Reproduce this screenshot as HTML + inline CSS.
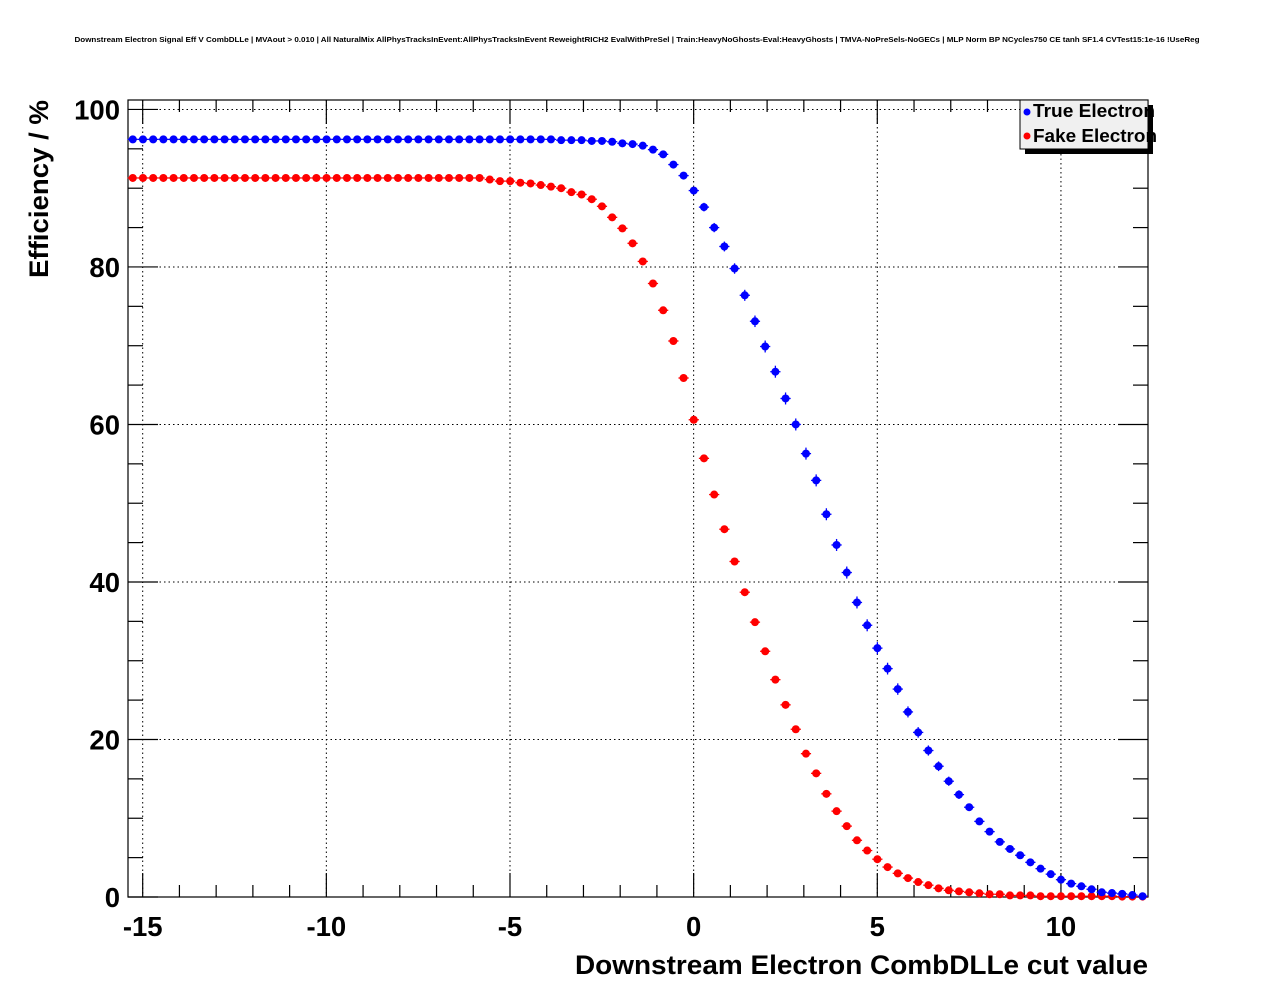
<!DOCTYPE html>
<html><head><meta charset="utf-8"><style>
html,body{margin:0;padding:0;background:#fff;}
svg{display:block;font-family:"Liberation Sans",Arial,sans-serif;}
</style></head><body>
<svg id="chart" width="1276" height="996" viewBox="0 0 1276 996" xmlns="http://www.w3.org/2000/svg">
<rect x="0" y="0" width="1276" height="996" fill="#fff"/>
<text x="637" y="42" font-size="7.2" font-weight="bold" text-anchor="middle" textLength="1125" lengthAdjust="spacingAndGlyphs">Downstream Electron Signal Eff V CombDLLe | MVAout &gt; 0.010 | All NaturalMix AllPhysTracksInEvent:AllPhysTracksInEvent ReweightRICH2 EvalWithPreSel | Train:HeavyNoGhosts-Eval:HeavyGhosts | TMVA-NoPreSels-NoGECs | MLP Norm BP NCycles750 CE tanh SF1.4 CVTest15:1e-16 !UseReg</text>
<g id="grid"></g>
<g id="axes"></g>
<g id="series"></g>
<text transform="translate(48,278) rotate(-90)" font-size="27" font-weight="bold" textLength="178" lengthAdjust="spacingAndGlyphs">Efficiency / %</text>
<text x="1148" y="974" font-size="27" font-weight="bold" text-anchor="end" textLength="573" lengthAdjust="spacingAndGlyphs">Downstream Electron CombDLLe cut value</text>
<g>
<rect x="1025" y="105" width="128" height="49" fill="#000"/>
<rect x="1020" y="100" width="128" height="49" fill="#f0f0f0" stroke="#000" stroke-width="1"/>
<circle cx="1027" cy="112" r="3.5" fill="#0000ff"/>
<text x="1033" y="117" font-size="18" font-weight="bold" textLength="122" lengthAdjust="spacingAndGlyphs">True Electron</text>
<circle cx="1027" cy="136" r="3.5" fill="#ff0000"/>
<text x="1033" y="142" font-size="18" font-weight="bold" textLength="124" lengthAdjust="spacingAndGlyphs">Fake Electron</text>
</g>
</svg>
<script>
const xTickValues = [-15,-10,-5,0,5,10];
const xTickLabels = ["-15","-10","-5","0","5","10"];
const yTickValues = [0,20,40,60,80,100];
const yTickLabels = ["0","20","40","60","80","100"];
const cutStart = -15.27;
const cutStep = 0.2777;
const trueEff = [96.2,96.2,96.2,96.2,96.2,96.2,96.2,96.2,96.2,96.2,96.2,96.2,96.2,96.2,96.2,96.2,96.2,96.2,96.2,96.2,96.2,96.2,96.2,96.2,96.2,96.2,96.2,96.2,96.2,96.2,96.2,96.2,96.2,96.2,96.2,96.2,96.2,96.2,96.2,96.2,96.2,96.2,
96.1,96.1,96.1,96.0,96.0,95.9,95.7,95.6,95.4,94.9,94.3,93.0,91.6,89.7,87.6,85.0,82.6,79.8,76.4,73.1,69.9,66.7,63.3,
60.0,56.3,52.9,48.6,44.7,41.2,37.4,34.5,31.6,29.0,
26.4,23.5,20.9,18.6,16.6,14.7,13.0,11.4,9.6,8.3,7.0,6.1,5.3,4.4,3.6,2.9,2.2,1.7,1.36,0.98,0.6,0.5,0.4,0.25,0.1];
const fakeEff = [91.3,91.3,91.3,91.3,91.3,91.3,91.3,91.3,91.3,91.3,91.3,91.3,91.3,91.3,91.3,91.3,91.3,91.3,91.3,91.3,91.3,91.3,91.3,91.3,91.3,91.3,91.3,91.3,91.3,91.3,91.3,91.3,91.3,91.3,91.3,
91.1,90.9,90.9,90.7,90.6,90.4,90.2,
90.0,89.5,89.2,88.6,87.7,86.3,84.9,83.0,80.7,77.9,74.5,70.6,65.9,
60.6,55.7,51.1,46.7,42.6,38.7,34.9,31.2,27.6,
24.4,21.3,18.2,15.7,13.1,10.9,9.0,7.2,5.9,4.8,3.8,3.0,2.4,1.9,1.5,1.1,0.85,0.72,0.6,0.47,0.35,0.35,0.2,0.2,0.2,0.1,0.1,0.1,0.1,0.1,0.1,0.1,0.1,0.05,0.05,0.05];

const NS="http://www.w3.org/2000/svg";
const L=128,R=1148,T=100,B=897;
const xMin=-15.4,xMax=12.37,yMin=0,yMax=101.2;
function xs(v){return L+(v-xMin)/(xMax-xMin)*(R-L);}
function ys(v){return B-(v-yMin)/(yMax-yMin)*(B-T);}
function mk(tag,attrs,parent){const e=document.createElementNS(NS,tag);for(const k in attrs)e.setAttribute(k,attrs[k]);parent.appendChild(e);return e;}
const grid=document.getElementById('grid'),axes=document.getElementById('axes'),series=document.getElementById('series');

xTickValues.forEach((v,i)=>{
  const x=xs(v);
  const g=mk('line',{x1:x,x2:x,y1:T,y2:B,stroke:'#000','stroke-width':1,'stroke-dasharray':'1.5,3'},grid);
  
  
  const t=mk('text',{x:x,y:936,'font-size':27.5,'font-weight':'bold','text-anchor':'middle'},axes);
  t.textContent=xTickLabels[i];
  
  
});
yTickValues.forEach((v,i)=>{
  const y=ys(v);
  const g=mk('line',{x1:L,x2:R,y1:y,y2:y,stroke:'#000','stroke-width':1,'stroke-dasharray':'1.5,3'},grid);
  
  
  const t=mk('text',{x:120,y:y+10,'font-size':27.5,'font-weight':'bold','text-anchor':'end'},axes);
  t.textContent=yTickLabels[i];
  
  
});
for(let v=-15;v<=12;v++){
  const x=xs(v),len=(v%5===0)?24:12;
  mk('line',{x1:x,x2:x,y1:B,y2:B-len,stroke:'#000','stroke-width':1.2},axes);
  mk('line',{x1:x,x2:x,y1:T,y2:T+len,stroke:'#000','stroke-width':1.2},axes);
}
for(let v=0;v<=100;v+=5){
  const y=ys(v),len=(v%20===0)?30:15;
  mk('line',{x1:L,x2:L+len,y1:y,y2:y,stroke:'#000','stroke-width':1.2},axes);
  mk('line',{x1:R,x2:R-len,y1:y,y2:y,stroke:'#000','stroke-width':1.2},axes);
}
const fr=mk('rect',{x:L,y:T,width:R-L,height:B-T,fill:'none',stroke:'#000','stroke-width':1.2},axes);



function drawSeries(vals,color,name,errScale){
  const g=mk('g',{},series);
  
  
  vals.forEach((v,i)=>{
    const c=cutStart+i*cutStep;
    const x=xs(c),y=ys(v);
    const hw=(xs(c+cutStep/2)-xs(c));
    mk('line',{x1:x-hw,x2:x+hw,y1:y,y2:y,stroke:color,'stroke-width':1.3},g);
    const e=Math.min(6,Math.sqrt(Math.max(v,0)*(100-v))*errScale);
    if(e>4.2) mk('line',{x1:x,x2:x,y1:y-e,y2:y+e,stroke:color,'stroke-width':1.3},g);
    const p=mk('circle',{cx:x,cy:y,r:4,fill:color},g);
    
    
  });
}
drawSeries(fakeEff,'#ff0000','fake-electron-series',0.08);
drawSeries(trueEff,'#0000ff','true-electron-series',0.13);
</script>
</body></html>
